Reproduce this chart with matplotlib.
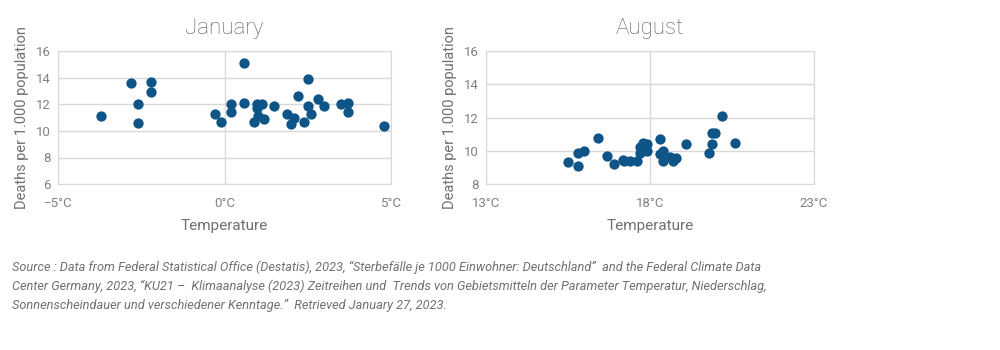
import numpy as np
import matplotlib.pyplot as plt
from matplotlib.ticker import FuncFormatter

# January: mean temperature (°C) vs deaths per 1,000 population
jan_temp = [-3.7, -2.81, -2.61, -2.6, -2.2, -2.2, -0.3, -0.11, 0.2, 0.2, 0.6, 0.6,
            0.9, 0.99, 1.12, 0.99, 1.0, 1.2, 1.5, 1.89, 2.0, 2.1, 2.2, 2.4,
            2.5, 2.5, 2.6, 2.8, 3.0, 3.5, 3.7, 3.7, 4.8]
jan_deaths = [11.1, 13.6, 12.0, 10.6, 13.7, 12.9, 11.3, 10.7, 12.0, 11.4, 15.1, 12.1,
              10.7, 12.0, 12.0, 11.7, 11.1, 10.9, 11.9, 11.3, 10.5, 11.0, 12.6, 10.7,
              13.9, 11.9, 11.3, 12.4, 11.9, 12.0, 12.1, 11.4, 10.4]

# August
aug_temp = [15.49, 15.79, 15.79, 15.99, 16.4, 16.68, 16.89, 17.18, 17.2, 17.39, 17.59,
            17.8, 17.7, 17.9, 17.8, 17.7, 17.9, 17.85,
            18.29, 18.29, 18.4, 18.4, 18.6, 18.7, 18.8, 19.1,
            19.79, 19.89, 19.89, 19.99, 20.2, 20.6]
aug_deaths = [9.3, 9.9, 9.1, 10.0, 10.8, 9.7, 9.2, 9.45, 9.4, 9.4, 9.4,
              10.5, 10.25, 10.4, 10.1, 9.9, 10.0, 10.3,
              10.7, 9.8, 10.0, 9.4, 9.65, 9.4, 9.6, 10.4,
              9.9, 10.4, 11.1, 11.1, 12.1, 10.5]

source_lines = [
    "Source : Data from Federal Statistical Office (Destatis), 2023, \u201cSterbef\u00e4lle je 1000 Einwohner: Deutschland\u201d  and the Federal Climate Data",
    "Center Germany, 2023, \u201cKU21 \u2013  Klimaanalyse (2023) Zeitreihen und  Trends von Gebietsmitteln der Parameter Temperatur, Niederschlag,",
    "Sonnenscheindauer und verschiedener Kenntage.\u201d  Retrieved January 27, 2023.",
]

plt.rcParams['font.family'] = ['Roboto', 'DejaVu Sans']
grey = '#808080'
dot = '#0f5486'

fig = plt.figure(figsize=(10, 3.5), dpi=100)
fmt = FuncFormatter(lambda v, p: f"{v:g}\u00b0C".replace('-', '\u2212'))


def panel(rect, x, y, title, xlim, ylim):
    ax = fig.add_axes(rect)
    ax.scatter(x, y, s=55, color=dot, zorder=3, linewidths=0)
    ax.set_xlim(*xlim)
    ax.set_ylim(*ylim)
    ax.set_xticks(np.arange(xlim[0], xlim[1] + 0.1, 5))
    ax.set_yticks(np.arange(ylim[0], ylim[1] + 0.1, 2))
    ax.xaxis.set_major_formatter(fmt)
    ax.grid(True, color='#d9d9d9', linewidth=1)
    ax.set_axisbelow(True)
    for s in ax.spines.values():
        s.set_color('#d9d9d9')
    ax.tick_params(length=0, colors=grey, labelsize=9.5)
    ax.tick_params(axis='x', pad=9)
    ax.tick_params(axis='y', pad=5)
    ax.set_title(title, color='#5a5a5a', fontsize=16, pad=12, fontweight='light')
    ax.set_xlabel('Temperature', color='#707070', fontsize=11, labelpad=7)
    ax.set_ylabel('Deaths per 1.000 population', color='#707070', fontsize=10.5, labelpad=5)
    return ax


panel([0.058, 0.474, 0.333, 0.380], jan_temp, jan_deaths, 'January', (-5, 5), (6, 16))
panel([0.486, 0.474, 0.328, 0.380], aug_temp, aug_deaths, 'August', (13, 23), (8, 16))

for i, line in enumerate(source_lines):
    fig.text(0.012, 1 - (267 + 19 * i) / 350, line, fontsize=9.2, style='italic',
             color='#707070', va='center', ha='left')

fig.savefig('out.png', dpi=100)
